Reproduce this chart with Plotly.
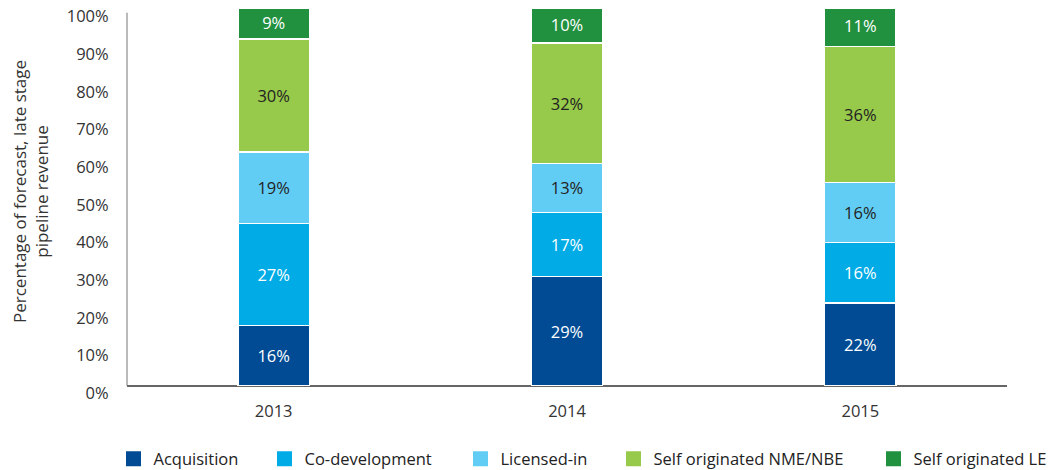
import plotly.graph_objects as go

# data
years = ["2013", "2014", "2015"]
acquisition = [16, 29, 22]
co_development = [27, 17, 16]
licensed_in = [19, 13, 16]
self_nme_nbe = [30, 32, 36]
self_le = [9, 10, 11]

series_names = ["Acquisition", "Co-development", "Licensed-in",
                "Self originated NME/NBE", "Self originated LE"]
series_values = [acquisition, co_development, licensed_in, self_nme_nbe, self_le]
series_colors = ["#004b93", "#00abe6", "#62cdf4", "#97c94a", "#22913f"]
label_colors = ["white", "white", "#222222", "#222222", "white"]

y_ticks = list(range(0, 101, 10))
y_tick_text = [f"{v}%" for v in y_ticks]

FONT = "Open Sans"
W, H = 1061, 470
ML, MR, MT, MB = 127, 54, 9, 76
plot_w = W - ML - MR
plot_h = H - MT - MB

# legend square left edges in pixels (from the reference)
legend_px = [126, 277, 473, 626, 886]

fig = go.Figure()
for i, (name, vals) in enumerate(zip(series_names, series_values)):
    fig.add_trace(go.Bar(
        x=years, y=vals, name=name,
        marker=dict(color=series_colors[i], line=dict(color="white", width=1.5)),
        text=[f"{v}%" for v in vals],
        textposition="inside",
        insidetextanchor="middle",
        textangle=0,
        textfont=dict(family=FONT, size=16.5, color=label_colors[i]),
        width=0.243,
        showlegend=False,
        hoverinfo="skip",
    ))

# legend-only entries so the squares can be bigger than the bar icons
layout_legends = {}
for i, (name, px) in enumerate(zip(series_names, legend_px)):
    key = "legend" if i == 0 else f"legend{i + 1}"
    fig.add_trace(go.Scatter(
        x=[None], y=[None], mode="markers", name=name,
        marker=dict(symbol="square", size=15, color=series_colors[i]),
        legend=key, showlegend=True, hoverinfo="skip",
    ))
    layout_legends[key] = dict(
        x=(px - 12.5 - ML) / plot_w, xanchor="left",
        y=-(459 - (H - MB)) / plot_h, yanchor="middle",
        orientation="h",
        bgcolor="rgba(0,0,0,0)",
        font=dict(family=FONT, size=16.5, color="#222222"),
        itemclick=False,
    )

fig.update_layout(
    width=W, height=H,
    margin=dict(l=ML, r=MR, t=MT, b=MB, autoexpand=False),
    barmode="stack",
    showlegend=True,
    plot_bgcolor="white",
    paper_bgcolor="white",
    font=dict(family=FONT, size=16, color="#333333"),
    uniformtext=dict(minsize=16, mode="show"),
    xaxis=dict(
        showgrid=False, showline=False, zeroline=False,
        ticks="outside", ticklen=2, tickcolor="rgba(0,0,0,0)",
        tickfont=dict(family=FONT, size=16.5, color="#333333"),
    ),
    yaxis=dict(
        range=[-2.2, 100],
        tickvals=[v - 2.0 for v in y_ticks],
        ticktext=y_tick_text,
        showgrid=False, showline=False,
        zeroline=True, zerolinecolor="#666666", zerolinewidth=2,
        ticks="outside", ticklen=6, tickcolor="rgba(0,0,0,0)",
        ticklabelstandoff=8,
        tickfont=dict(family=FONT, size=16.5, color="#333333"),
    ),
    shapes=[dict(type="line", xref="paper", yref="y", x0=0, x1=0, y0=0, y1=99,
                 line=dict(color="#777777", width=1))],
    annotations=[dict(
        text="Percentage of forecast, late stage<br>pipeline revenue",
        xref="paper", yref="paper",
        x=(30 - ML) / plot_w, y=1 - (192 - MT) / plot_h,
        xanchor="center", yanchor="middle",
        textangle=-90, showarrow=False,
        font=dict(family=FONT, size=17, color="#333333"),
    )],
    **layout_legends,
)

# the page's default body margin would shift the chart by 8px
fig.write_html("out.html", config={"displayModeBar": False},
               post_script="document.body.style.margin='0';")
